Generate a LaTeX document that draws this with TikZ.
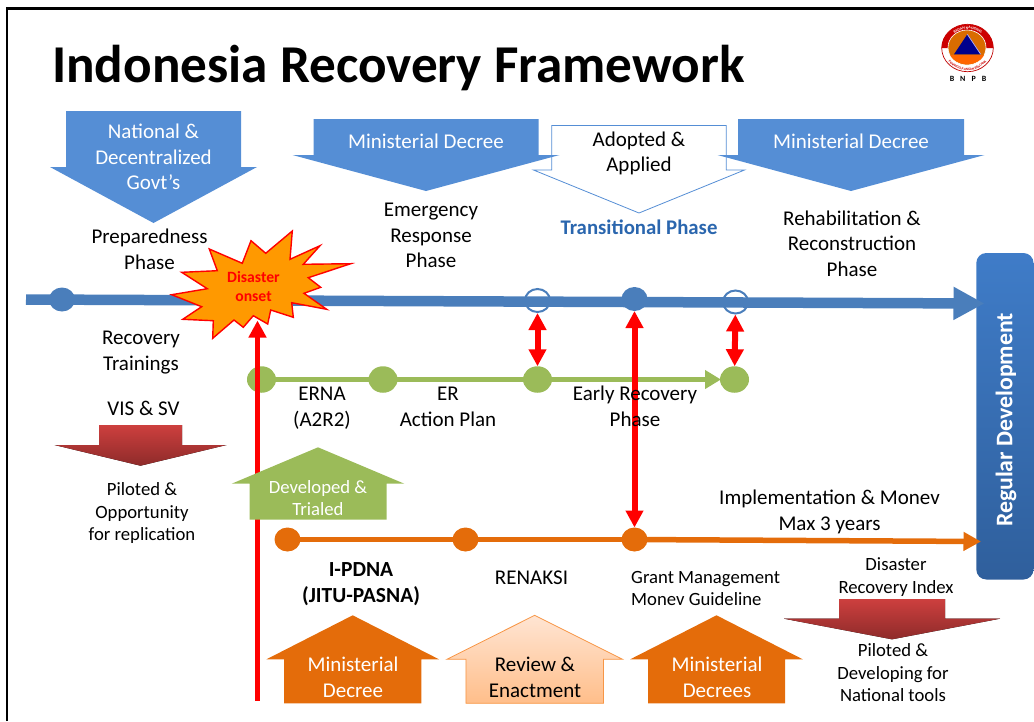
\documentclass[tikz,border=0pt]{standalone}
\usepackage{fontspec}
\setmainfont{Carlito}
\usetikzlibrary{arrows.meta,decorations.text,shapes.geometric}
\definecolor{bnblue}{HTML}{558ED5}
\definecolor{bnline}{HTML}{4A7EBB}
\definecolor{bngreen}{HTML}{9BBB59}
\definecolor{bnorange}{HTML}{E46C0A}
\definecolor{bnboxa}{HTML}{3F7CC8}
\definecolor{bnboxb}{HTML}{2F5F9C}
\definecolor{bnreda}{HTML}{CD3F3E}
\definecolor{bnredb}{HTML}{8E2B2A}
\definecolor{bnpeacha}{HTML}{FFE5D3}
\definecolor{bnpeachb}{HTML}{FFBE8A}
\definecolor{bnpeach}{HTML}{F79646}
\definecolor{bnburst}{HTML}{FF9900}
\definecolor{bntrans}{HTML}{2A66AE}
\tikzset{
  body/.style={align=center,inner sep=0pt,font=\fontsize{21}{25.7}\selectfont},
  small/.style={align=center,inner sep=0pt,font=\fontsize{18.7}{22.5}\selectfont},
  dot/.style={ellipse,inner sep=0pt,outer sep=-1pt,minimum width=26pt,minimum height=24pt},
  ring/.style={ellipse,inner sep=0pt,draw=bnline,line width=2pt,minimum width=25pt,minimum height=23pt},
  gdot/.style={ellipse,inner sep=0pt,outer sep=-1pt,minimum width=29pt,minimum height=26.5pt,fill=bngreen},
  redtip/.style={line width=6pt,red,shorten >=1pt,{Triangle[length=17pt,width=17pt]}-{Triangle[length=17pt,width=17pt]}},
}
\begin{document}
\begin{tikzpicture}[x=1pt,y=-1pt]
  \useasboundingbox (0,0) rectangle (1034,721);
  \def\downblock#1#2#3#4#5#6{(#1-#3,#2) -- (#1+#3,#2) -- (#1+#3,#4) -- (#1+#5,#4) -- (#1,#6) -- (#1-#5,#4) -- (#1-#3,#4) -- cycle}
  \def\upblock#1#2#3#4#5#6{(#1,#2) -- (#1+#3,#4) -- (#1+#5,#4) -- (#1+#5,#6) -- (#1-#5,#6) -- (#1-#5,#4) -- (#1-#3,#4) -- cycle}
  \draw [line width=2.5pt] (7,721) -- (7,8.5) -- (1034,8.5);
  \node [anchor=base west,inner sep=0pt,font=\fontsize{53.2}{60}\selectfont\bfseries] (title) at (52,82) {Indonesia Recovery Framework};

  % logo
  \fill [white,draw=red!75!black,line width=.7pt] (967.5,48) ellipse (25.8 and 23.7);
  \fill [red!80!black] (941.7,48) arc [start angle=180,end angle=360,x radius=25.8,y radius=23.7] -- cycle;
  \fill [orange!85!black,draw=white,line width=.6pt] (967,47.5) ellipse (19 and 17.5);
  \fill [red!20!orange] (950,55) -- (984,55) arc [start angle=20,end angle=160,x radius=18,y radius=14] -- cycle;
  \fill [blue!55!black] (967.3,34.3) -- (980.7,54.3) -- (954,54.3) -- cycle;
  \draw [blue!30!white,line width=.7pt] (967.3,34.3) -- (980.7,54.3);
  \path [decorate,decoration={text along path,text align=center,text={|\fontsize{3.8}{4}\selectfont\bfseries\color{white}|BADAN NASIONAL}}]
    (947.5,48) arc [start angle=180,end angle=360,x radius=20.5,y radius=19];
  \path [decorate,decoration={text along path,text align=center,text={|\fontsize{3.4}{4}\selectfont\bfseries\color{red!80!black}|PENANGGULANGAN BENCANA}}]
    (943.5,48) arc [start angle=180,end angle=0,x radius=24,y radius=22.5];
  \node [inner sep=0pt,font=\fontsize{8}{9}\selectfont\bfseries] (bnpb) at (968,79) {B\hspace{6pt}N\hspace{6pt}P\hspace{6pt}B};

  % top arrows
  \fill [bnblue] \downblock{153.5}{111}{87.5}{167}{103.5}{223};
  \draw [bnblue,fill=white,line width=.8pt] \downblock{639}{125.5}{87.3}{170}{105.5}{213};
  \fill [bnblue] \downblock{426}{119}{112.5}{155}{133.5}{191};
  \fill [bnblue] \downblock{851}{119}{113}{155}{133.5}{191};
  \node [body,white] (national) at (153.5,157) {National \&\\Decentralized\\Govt’s};
  \node [body,white] (decree1) at (426,141) {Ministerial Decree};
  \node [body] (adopted) at (639,153.5) {Adopted \&\\Applied};
  \node [body,white] (decree2) at (851,141) {Ministerial Decree};

  % regular development
  \path [rounded corners=10pt,top color=bnboxa,bottom color=bnboxb] (976.3,253) rectangle (1033.5,579.5);
  \node [rotate=90,inner sep=0pt,white,font=\fontsize{23.8}{28}\selectfont\bfseries] (regular) at (1006,420) {Regular Development};

  % green line
  \node [gdot] (g1) at (261.5,379.5) {};
  \node [gdot] (g2) at (383,379.5) {};
  \node [gdot] (g3) at (537.5,379.5) {};
  \node [gdot] (g4) at (734.5,379.5) {};
  \draw [bngreen,line width=5.5pt] (g1) -- (g2);
  \draw [bngreen,line width=5.5pt] (g2) -- (g3);
  \draw [bngreen,line width=5.5pt,-{Triangle[length=16pt,width=18pt]}] (g3) -- (g4);

  % blue line
  \coordinate (bstart) at (26,299.5);
  \coordinate (bend) at (984.5,303.5);
  \draw [bnline,line width=10.5pt,-{Triangle[length=31pt,width=31pt]}] (bstart) -- (bend);
  \node [dot,fill=bnline] (b1) at (62,299.5) {};
  \node [ring] (b2) at (537.5,300.5) {};
  \node [dot,fill=bnline] (b3) at (634.5,299) {};
  \node [ring] (b4) at (735.5,302) {};

  % orange line
  \node [dot,fill=bnorange] (o1) at (287.5,539.5) {};
  \node [dot,fill=bnorange] (o2) at (465.5,539.5) {};
  \node [dot,fill=bnorange] (o3) at (634.5,539.5) {};
  \coordinate (oend) at (981,541.5);
  \draw [bnorange,line width=5.5pt] (o1) -- (o2);
  \draw [bnorange,line width=5.5pt] (o2) -- (o3);
  \draw [bnorange,line width=5.5pt,-{Triangle[length=17.5pt,width=18pt]}] (o3) -- (oend);

  % red lines
  \coordinate (rfoot) at (257.5,700.7);
  \coordinate (rtip) at (257.5,320.5);
  \draw [red,line width=5.5pt,-{Triangle[length=17pt,width=17pt]}] (rfoot) -- (rtip);
  \draw [redtip] (b2) -- (g3);
  \draw [redtip] (b4) -- (g4);
  \draw [redtip,shorten <=1pt] (b3) -- (o3);

  % burst
  \draw [red,fill=bnburst,line width=1.4pt,miter limit=20]
    (171.7,294.7) -- (207.3,288.7) -- (181.7,272.3) -- (217.3,270.7) -- (209.3,249) -- (242.3,263.3) -- (251,240.7) -- (265.7,253.3) -- (292.3,231) -- (290,259.3) -- (320,245.7) -- (303.3,264.3) -- (350.7,263.7) -- (308.3,277.7) -- (320.7,287.3) -- (304,293.3) -- (326.7,309.3) -- (291.7,302.7) -- (293.3,317.3) -- (270.7,310) -- (267.7,324) -- (253.3,315.7) -- (243.3,327.3) -- (234,320) -- (212.7,338.3) -- (213.3,320.7) -- (182.7,319.3) -- (201.7,306.7) -- cycle;
  \node [align=center,inner sep=0pt,red,font=\fontsize{15.7}{19}\selectfont\bfseries] (onset) at (253.5,286.5) {Disaster\\onset};

  % lower arrows
  \fill [top color=bnreda,bottom color=bnredb] \downblock{140.5}{425}{41.5}{445}{86}{465.7};
  \fill [top color=bnreda,bottom color=bnredb] \downblock{892}{599}{53}{618.7}{108}{639.3};
  \fill [bngreen] \upblock{318}{447.3}{86.3}{483.7}{68.5}{519.7};
  \fill [bnorange] \upblock{352.7}{615.3}{86.3}{659.3}{68.7}{703.3};
  \draw [bnpeach,line width=.8pt,top color=bnpeacha,bottom color=bnpeachb] \upblock{534.7}{615.3}{87.8}{659.3}{68.8}{703.3};
  \fill [bnorange] \upblock{716.5}{615.3}{86.3}{659.3}{68.5}{703.3};
  \node [small,white] (trial) at (318,498) {Developed \&\\Trialed};
  \node [body,white] (decree3) at (353,677.5) {Ministerial\\Decree};
  \node [body] (review) at (535,677.5) {Review \&\\Enactment};
  \node [body,white] (decree4) at (717,677.5) {Ministerial\\Decrees};

  % labels
  \node [body] (prep) at (149.5,249.5) {Preparedness\\Phase};
  \node [body] (emerg) at (431,235.5) {Emergency\\Response\\Phase};
  \node [inner sep=0pt,font=\fontsize{20.8}{24}\selectfont\bfseries,text=bntrans] (trans) at (639,227) {Transitional Phase};
  \node [body] (rehab) at (852,243.5) {Rehabilitation \&\\Reconstruction\\Phase};
  \node [body] (train) at (141,352.5) {Recovery\\Trainings};
  \node [body] (vis) at (143.5,408) {VIS \& SV};
  \node [small] (pilot1) at (142,513.5) {Piloted \&\\Opportunity\\for replication};
  \node [body] (erna) at (322,408.5) {ERNA\\(A2R2)};
  \node [body] (plan) at (448,406.5) {ER\\Action Plan};
  \node [body] (early) at (635,406.5) {Early Recovery\\Phase};
  \node [body] (impl) at (829.5,512) {Implementation \& Monev\\Max 3 years};
  \node [body,font=\fontsize{21.5}{26}\selectfont\bfseries] (pdna) at (361,584) {I-PDNA\\(JITU-PASNA)};
  \node [body] (renaksi) at (531.5,577.5) {RENAKSI};
  \node [small,align=left,anchor=west] (grant) at (631,588.5) {Grant Management\\Monev Guideline};
  \node [small] (index) at (896,577) {Disaster\\Recovery Index};
  \node [small] (pilot2) at (893,673) {Piloted \&\\Developing for\\National tools};
\end{tikzpicture}
\end{document}
